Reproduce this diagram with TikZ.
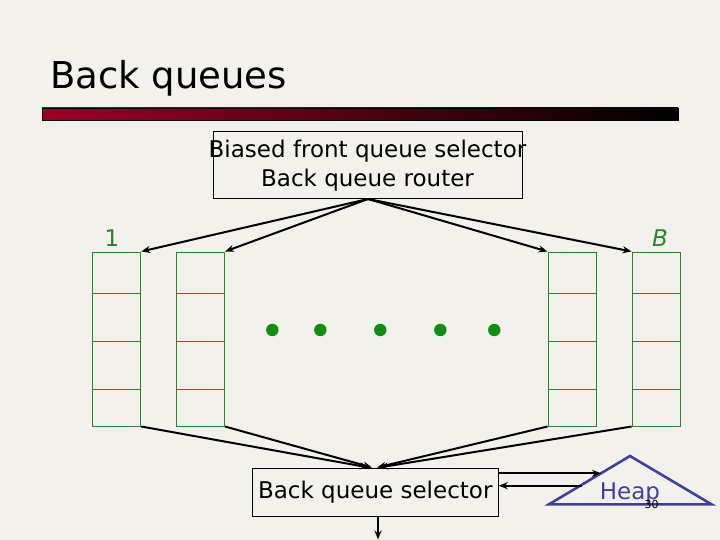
\documentclass[tikz,border=0pt]{standalone}
\usepackage{fontspec}
\setmainfont{DejaVu Sans}
\usetikzlibrary{arrows.meta,calc}
\definecolor{bg}{RGB}{242,241,235}
\definecolor{qgreen}{RGB}{40,136,40}
\definecolor{dotgreen}{RGB}{16,144,16}
\definecolor{barred}{RGB}{160,0,32}
\definecolor{heapblue}{RGB}{64,64,164}
\tikzset{
  queue/.style={draw=qgreen, line width=1pt, minimum width=48.4pt, minimum height=174pt, inner sep=0pt},
  blackbox/.style={draw=black, line width=0.9pt, inner sep=0pt},
  conn/.style={draw=black, line width=2pt, -{Stealth[length=9pt,width=7pt]}},
  qdot/.style={circle, fill=dotgreen, minimum size=12.4pt, inner sep=0pt},
  lbl/.style={font=\fontsize{23}{29}\selectfont},
}
\begin{document}
\begin{tikzpicture}[x=1pt,y=-1pt]
\useasboundingbox (0,0) rectangle (720,540);
\fill[bg] (0,0) rectangle (720,540);
% title
\node[anchor=base west, inner sep=0pt, font=\fontsize{37}{40}\selectfont] (title) at (50,89) {Back queues};
\shade[left color=barred, right color=black] (42,108) rectangle (678,120);
\draw[black, line width=0.6pt] (42,108) rectangle (678,120);
% top box
\node[blackbox, minimum width=309pt, minimum height=67pt] (router) at (367.5,164.5) {};
\node[lbl, anchor=base, inner sep=0pt] (rt1) at (367.5,158) {Biased front queue selector};
\node[lbl, anchor=base, inner sep=0pt] (rt2) at (367.5,187) {Back queue router};
% queues
\foreach \n/\x in {q1/116.5, q2/200.3, q3/572.2, q4/656.3} {
  \node[queue] (\n) at (\x,339) {};
  \foreach \d in {42,90,138}
    \draw[qgreen, line width=1pt] ($(\n.north west)+(0,\d)$) -- ($(\n.north east)+(0,\d)$);
}
\node[lbl, text=qgreen, anchor=base, inner sep=0pt] (one) at (112,246) {1};
\node[lbl, text=qgreen, anchor=base, inner sep=0pt, font=\fontsize{23}{29}\selectfont\itshape] (bee) at (660,246) {B};
% dots
\foreach \i/\x in {1/272.3, 2/320.3, 3/380.3, 4/440.3, 5/494.3}
  \node[qdot] (dot\i) at (\x,330) {};
% top arrows
\coordinate (rs) at (368,199);
\draw[conn] (rs) -- (q1.north east);
\draw[conn] (rs) -- (q2.north east);
\draw[conn] (rs) -- (q3.north west);
\draw[conn] (rs) -- (q4.north west);
% bottom box
\node[blackbox, minimum width=246pt, minimum height=48.4pt] (selector) at (375.3,492.5) {};
\node[lbl, anchor=base, inner sep=0pt] (selt) at (375.3,498) {Back queue selector};
\coordinate (b1) at (369,467.5);
\coordinate (b2) at (372,467.5);
\coordinate (b3) at (377,467.5);
\coordinate (b4) at (379,467.5);
\draw[conn] (q1.south east) -- (b1);
\draw[conn] (q2.south east) -- (b2);
\draw[conn] (q3.south west) -- (b3);
\draw[conn] (q4.south west) -- (b4);
% heap
\coordinate (hA) at (630,456);
\coordinate (hL) at (549,504.3);
\coordinate (hR) at (711.5,504.3);
\draw[heapblue, line width=2.6pt, line join=miter] (hL) -- (hA) -- (hR) -- cycle;
\node[lbl, text=heapblue, anchor=base, inner sep=0pt] (heap) at (630,499) {Heap};
\node[anchor=base, inner sep=0pt, font=\fontsize{11}{12}\selectfont] (pg) at (651.7,508) {30};
\coordinate (h1) at (601,473.3);
\coordinate (h2) at (581.7,485.7);
\draw[conn] (selector.east |- h1) -- (h1);
\draw[conn] (h2) -- (selector.east |- h2);
\coordinate (out) at (378,539.5);
\draw[conn] (selector.south -| out) -- (out);
\end{tikzpicture}
\end{document}
